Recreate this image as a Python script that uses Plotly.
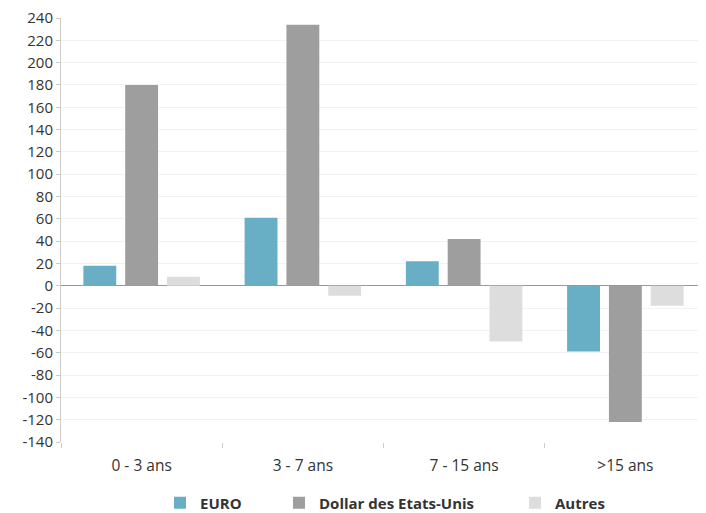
import plotly.graph_objects as go

categories = ["0 - 3 ans", "3 - 7 ans", "7 - 15 ans", ">15 ans"]
euro = [18, 61, 22, -59]
dollar = [180, 234, 42, -122]
autres = [8, -9, -50, -18]
series_names = ["EURO", "Dollar des Etats-Unis", "Autres"]
colors = ["#68afc6", "#9e9e9e", "#dddddd"]
legend_widths = [74, 191, 60]
y_ticks = list(range(-140, 241, 20))
y_ticktext = [str(v) for v in y_ticks]  # plain hyphen-minus as in the reference

fig = go.Figure()
for name, vals, col, lw in zip(series_names, [euro, dollar, autres], colors, legend_widths):
    fig.add_trace(go.Bar(x=categories, y=vals, name=name, legendwidth=lw,
                         marker=dict(color=col, line=dict(width=0))))

fig.update_layout(
    width=698, height=505,
    margin=dict(l=53, r=0, t=10, b=71, autoexpand=False),
    paper_bgcolor="white", plot_bgcolor="white",
    barmode="group", bargap=0.222, bargroupgap=0.214,
    font=dict(family="Open Sans", size=15, color="#333333"),
    showlegend=True,
    legend=dict(orientation="h", x=0.1535, xanchor="left", y=-0.144, yanchor="middle",
                font=dict(family="Open Sans", size=15, color="#333333", weight="bold"),
                itemwidth=30, traceorder="normal"),
)
fig.update_xaxes(
    showgrid=False, showline=False, ticks="outside", tickson="boundaries",
    ticklen=5, tickcolor="#cccccc", tickfont=dict(size=15.5, color="#333333"),
    automargin=False, ticklabelstandoff=12,
)
fig.update_yaxes(
    range=[-140, 240], tickvals=y_ticks, ticktext=y_ticktext,
    showgrid=True, gridcolor="#f2f2f2", gridwidth=1,
    showline=True, linecolor="#cccccc", linewidth=1, ticks="outside", ticklen=4, tickcolor="#cccccc",
    zeroline=True, zerolinecolor="#999999", zerolinewidth=1,
    tickfont=dict(size=15, color="#333333"), automargin=False, ticklabeloverflow="allow",
)
fig.write_html("out.html")
